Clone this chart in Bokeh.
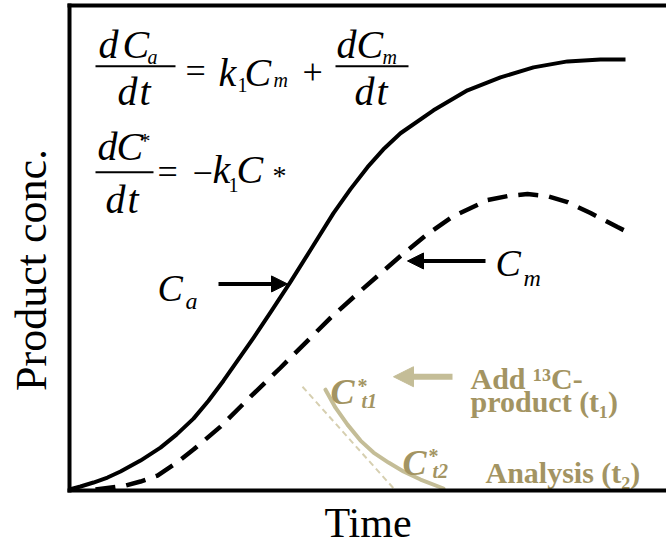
from bokeh.plotting import figure
from bokeh.models import Range1d, LinearAxis, FixedTicker, Arrow, NormalHead
from bokeh.core.properties import value
from bokeh.embed import file_html
from bokeh.resources import INLINE

# Product concentration over time (arbitrary units)
time_ca = [0, 11, 24, 38, 51, 71, 91, 107, 124, 139, 154, 184, 202, 221, 241, 264, 281, 298,
           315, 331, 364, 398, 431, 464, 498, 531, 556]
conc_ca = [1, 4, 8, 13, 19, 30, 43, 56, 72, 90, 110, 153, 180, 209, 241, 278, 302, 324,
           343, 358, 381, 401, 414, 424, 430, 432, 432]

time_cm = [26, 56, 71, 88, 106, 124, 151, 181, 211, 241, 261, 291, 331, 358, 384, 418, 438,
           458, 478, 498, 521, 548, 556]
conc_cm = [1, 5, 9, 15, 27, 41, 64, 94, 123, 153, 173, 200, 235, 257, 275, 291, 295,
           297, 295, 289, 278, 264, 260]

# Labelled 13C-product decay between t1 and t2, with its initial tangent
time_cstar = [256, 266, 278, 291, 304, 319, 334, 351, 374]
conc_cstar = [101, 83, 66, 50, 38, 28, 19, 11, 2]
time_tangent = [233, 326]
conc_tangent = [104, 0]

BLACK = "black"
TAN_LINE = "#c4bd97"
TAN_TEXT = "#a39462"
FONT = "Liberation Serif"

p = figure(width=666, height=548, output_backend="svg", toolbar_location=None,
           x_range=Range1d(0, 597), y_range=Range1d(0, 486),
           min_border_left=69, min_border_right=0, min_border_top=5, min_border_bottom=57)
p.grid.visible = False
p.outline_line_color = None
p.background_fill_color = "white"
p.border_fill_color = "white"

bottom_axis = p.xaxis[0]
left_axis = p.yaxis[0]
top_axis = LinearAxis()
p.add_layout(top_axis, "above")
for ax in [bottom_axis, left_axis, top_axis]:
    ax.ticker = FixedTicker(ticks=[])
    ax.major_tick_line_color = None
    ax.minor_tick_line_color = None
    ax.major_tick_out = 0
    ax.minor_tick_out = 0
    ax.major_label_standoff = 0
    ax.major_label_text_font_size = "0px"
    ax.axis_line_width = 4
    ax.axis_line_color = BLACK
    ax.axis_line_cap = "square"
    ax.axis_label_text_font = FONT
    ax.axis_label_text_font_style = "normal"
    ax.axis_label_text_color = BLACK

bottom_axis.axis_label = "Time"
bottom_axis.axis_label_text_font_size = "42px"
bottom_axis.axis_label_standoff = 9
left_axis.axis_label = "Product conc.\u00a0\u00a0\u00a0\u00a0"
left_axis.axis_label_text_font_size = "44px"
left_axis.axis_label_standoff = 14

# curves
p.line(time_ca, conc_ca, line_width=4, color=BLACK, line_join="round")
p.line(time_cm, conc_cm, line_width=4.5, color=BLACK, line_dash="20 11")
p.line(time_tangent, conc_tangent, line_width=2, color="#d6cfb0", line_dash="6 4")
p.line(time_cstar, conc_cstar, line_width=4, color=TAN_LINE, line_cap="round", line_join="round")

# pointer arrows
p.add_layout(Arrow(end=NormalHead(size=16, fill_color=BLACK, line_color=BLACK, line_width=1),
                   x_start=149, y_start=207, x_end=218, y_end=207,
                   line_width=4, line_color=BLACK))
p.add_layout(Arrow(end=NormalHead(size=16, fill_color=BLACK, line_color=BLACK, line_width=1),
                   x_start=416, y_start=230, x_end=338, y_end=230,
                   line_width=4, line_color=BLACK))
p.add_layout(Arrow(end=NormalHead(size=20, fill_color=TAN_LINE, line_color=TAN_LINE, line_width=1),
                   x_start=383, y_start=114, x_end=324, y_end=114,
                   line_width=6, line_color=TAN_LINE))

# equation fraction bars
p.segment(x0=[26, 266, 26], x1=[106, 339, 84], y0=[425, 425, 319], y1=[425, 425, 319],
          line_width=2, color=BLACK)

# (text, x, baseline y, font px, style, colour)
pieces = [
    # dCa/dt = k1 Cm + dCm/dt
    ("d", 29, 436, 40, "italic", BLACK),
    ("C", 53, 436, 40, "italic", BLACK),
    ("a", 78, 429, 20, "italic", BLACK),
    ("d", 48, 389, 40, "italic", BLACK),
    ("t", 70, 389, 40, "italic", BLACK),
    ("=", 116, 411, 36, "normal", BLACK),
    ("k", 149, 408, 40, "italic", BLACK),
    ("1", 168, 401, 20, "normal", BLACK),
    ("C", 175, 408, 40, "italic", BLACK),
    ("m", 204, 406, 20, "italic", BLACK),
    ("+", 233, 410, 36, "normal", BLACK),
    ("d", 267, 436, 40, "italic", BLACK),
    ("C", 287, 436, 40, "italic", BLACK),
    ("m", 313, 429, 20, "italic", BLACK),
    ("d", 285, 389, 40, "italic", BLACK),
    ("t", 307, 389, 40, "italic", BLACK),
    # dC*/dt = -k1 C*
    ("d", 28, 334, 40, "italic", BLACK),
    ("C", 47, 334, 40, "italic", BLACK),
    ("*", 70, 345, 22, "normal", BLACK),
    ("d", 36, 281, 40, "italic", BLACK),
    ("t", 58, 281, 40, "italic", BLACK),
    ("=", 88, 309, 36, "normal", BLACK),
    ("\u2212", 123, 308, 36, "normal", BLACK),
    ("k", 143, 311, 40, "italic", BLACK),
    ("1", 159, 301, 20, "normal", BLACK),
    ("C", 167, 311, 40, "italic", BLACK),
    ("*", 203, 308, 28, "normal", BLACK),
    # curve names
    ("C", 88, 193, 38, "italic", BLACK),
    ("a", 116, 183, 24, "italic", BLACK),
    ("C", 426, 218, 38, "italic", BLACK),
    ("m", 454, 206, 24, "italic", BLACK),
    # labelled product
    ("C", 261, 89, 36, "bold italic", TAN_TEXT),
    ("*", 288, 99, 20, "bold", TAN_TEXT),
    ("t1", 292, 84, 20, "bold italic", TAN_TEXT),
    ("C", 333, 18, 36, "bold italic", TAN_TEXT),
    ("*", 359, 29, 20, "bold", TAN_TEXT),
    ("t2", 363, 14, 20, "bold italic", TAN_TEXT),
    ("Add \u00b9\u00b3C-", 401, 104, 30, "bold", TAN_TEXT),
    ("product (t\u2081)", 401, 81, 30, "bold", TAN_TEXT),
    ("Analysis (t\u2082)", 416, 10, 30, "bold", TAN_TEXT),
]

for txt, x, y, size, style, color in pieces:
    # lift by the font descent so the glyphs sit on the intended baseline
    p.text(x=[x], y=[y + 0.27 * size], text=[txt], text_font=value(FONT), text_font_size=f"{size}px",
           text_font_style=style, text_color=color, text_baseline="alphabetic", text_align="left")

open("out.html", "w").write(file_html(p, INLINE))
